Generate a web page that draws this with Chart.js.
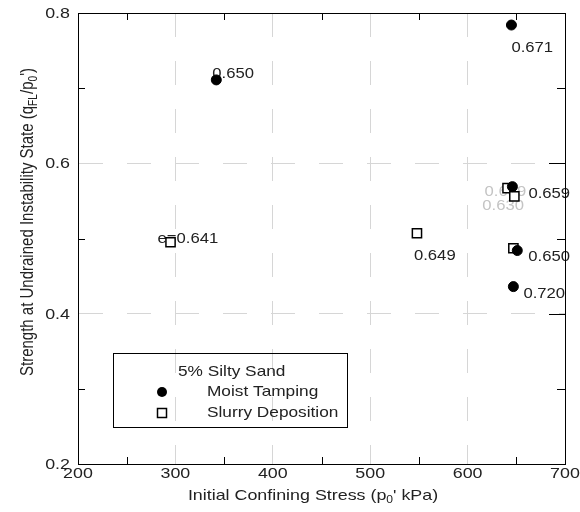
<!DOCTYPE html>
<html>
<head>
<meta charset="utf-8">
<script src="https://cdn.jsdelivr.net/npm/chart.js@4.4.0/dist/chart.umd.min.js"></script>
<style>
  html, body { margin: 0; padding: 0; background: #fff; }
  canvas { display: block; }
</style>
</head>
<body>
<canvas id="strengthChart" width="580" height="512"></canvas>
<script>
// values
const moistStress = [342, 645, 646, 651, 647];
const moistStrength = [0.711, 0.784, 0.569, 0.484, 0.436];
const moistVoid = ["0.650", "0.671", "0.659", "0.650", "0.720"];

const slurryStress = [295, 548, 641, 648, 647];
const slurryStrength = [0.495, 0.507, 0.567, 0.556, 0.487];
const slurryVoid = ["e=0.641", "0.649", "0.639", "0.630", ""];

const xTicks = [200, 300, 400, 500, 600, 700];
const yTicks = [0.2, 0.4, 0.6, 0.8];

// label placement relative to each marker (px)
const moistLabelOffset = [[-4, -6], [0, 23], [16, 8], [11, 7], [10, 8]];
const slurryLabelOffset = [[-13, -3], [-3, 23], [-23, 4], [-32, 10], [0, 0]];
const slurryLabelColor = ["#222", "#222", "#c4c4c4", "#c4c4c4", "#222"];

const FONT = "'Liberation Sans', Arial, sans-serif";
const STRETCH = 1.19;

function toPoints(xs, ys) {
  return xs.map((x, i) => ({ x: x, y: ys[i] }));
}

// draws a run of text pieces (some subscripted), horizontally stretched
function drawRun(ctx, pieces, size, align) {
  let w = 0;
  pieces.forEach((p) => {
    ctx.font = (p.sub ? size * 0.68 : size) + "px " + FONT;
    p.w = ctx.measureText(p.t).width;
    w += p.w;
  });
  let x = align === "center" ? -w / 2 : align === "right" ? -w : 0;
  pieces.forEach((p) => {
    ctx.font = (p.sub ? size * 0.68 : size) + "px " + FONT;
    ctx.fillText(p.t, x, p.sub ? size * 0.3 : 0);
    x += p.w;
  });
}

function text(ctx, str, x, y, size, align, color) {
  ctx.save();
  ctx.translate(x, y);
  ctx.scale(STRETCH, 1);
  ctx.fillStyle = color || "#222";
  ctx.textBaseline = "middle";
  drawRun(ctx, typeof str === "string" ? [{ t: str }] : str, size, align);
  ctx.restore();
}

const decorations = {
  id: "decorations",
  beforeDatasetsDraw(chart) {
    const ctx = chart.ctx;
    const xs = chart.scales.x, ys = chart.scales.y;
    moistStress.forEach((v, i) => {
      const o = moistLabelOffset[i];
      text(ctx, moistVoid[i], xs.getPixelForValue(v) + o[0],
        ys.getPixelForValue(moistStrength[i]) + o[1], 14, "left");
    });
    slurryStress.forEach((v, i) => {
      if (!slurryVoid[i]) return;
      const o = slurryLabelOffset[i];
      text(ctx, slurryVoid[i], xs.getPixelForValue(v) + o[0],
        ys.getPixelForValue(slurryStrength[i]) + o[1], 14, "left", slurryLabelColor[i]);
    });
  },
  afterDraw(chart) {
    const ctx = chart.ctx;
    const a = chart.chartArea;
    const xs = chart.scales.x, ys = chart.scales.y;

    // frame
    ctx.save();
    ctx.strokeStyle = "#000";
    ctx.lineWidth = 1;
    ctx.strokeRect(Math.round(a.left) + 0.5, Math.round(a.top) + 0.5,
      Math.round(a.right - a.left), Math.round(a.bottom - a.top));

    // inward ticks: minor between majors, plus long majors on the right
    ctx.beginPath();
    for (let i = 0; i < xTicks.length - 1; i++) {
      const px = Math.round(xs.getPixelForValue((xTicks[i] + xTicks[i + 1]) / 2)) + 0.5;
      ctx.moveTo(px, a.bottom); ctx.lineTo(px, a.bottom - 7);
      ctx.moveTo(px, a.top); ctx.lineTo(px, a.top + 7);
    }
    for (let i = 0; i < yTicks.length - 1; i++) {
      const py = Math.round(ys.getPixelForValue((yTicks[i] + yTicks[i + 1]) / 2)) + 0.5;
      ctx.moveTo(a.left, py); ctx.lineTo(a.left + 7, py);
      ctx.moveTo(a.right, py); ctx.lineTo(a.right - 8, py);
    }
    for (let i = 1; i < yTicks.length - 1; i++) {
      const py = Math.round(ys.getPixelForValue(yTicks[i])) + 0.5;
      ctx.moveTo(a.right, py); ctx.lineTo(a.right - 16, py);
    }
    ctx.stroke();
    ctx.restore();

    // tick labels
    xTicks.forEach((v) => text(ctx, String(v), xs.getPixelForValue(v), a.bottom + 10, 15, "center"));
    yTicks.forEach((v) => text(ctx, v.toFixed(1), a.left - 8, ys.getPixelForValue(v) + 1, 15, "right"));

    // axis titles
    text(ctx, [{ t: "Initial Confining Stress (p" }, { t: "0", sub: true }, { t: "' kPa)" }],
      313, 496, 15, "center");
    ctx.save();
    ctx.translate(28, 222);
    ctx.rotate(-Math.PI / 2);
    ctx.scale(1, STRETCH);
    ctx.fillStyle = "#222";
    ctx.textBaseline = "middle";
    drawRun(ctx, [{ t: "Strength at Undrained Instability State (q" }, { t: "FL", sub: true },
      { t: "/p" }, { t: "0", sub: true }, { t: "')" }], 15, "center");
    ctx.restore();

    // legend
    ctx.save();
    ctx.strokeStyle = "#000";
    ctx.lineWidth = 1;
    ctx.strokeRect(113.5, 353.5, 234, 74);
    ctx.fillStyle = "#000";
    ctx.beginPath();
    ctx.arc(162, 392, 5, 0, Math.PI * 2);
    ctx.fill();
    ctx.fillStyle = "#fff";
    ctx.lineWidth = 1.5;
    ctx.fillRect(157.5, 408.5, 9, 9);
    ctx.strokeRect(157.5, 408.5, 9, 9);
    ctx.restore();
    text(ctx, "5% Silty Sand", 178, 372, 14.5, "left");
    text(ctx, "Moist Tamping", 207, 392, 14.5, "left");
    text(ctx, "Slurry Deposition", 207, 413, 14.5, "left");
  }
};

const gridOpts = {
  color: "#d6d6d6",
  lineWidth: 1,
  drawTicks: false
};

new Chart(document.getElementById("strengthChart"), {
  type: "scatter",
  data: {
    datasets: [
      {
        label: "Moist Tamping",
        data: toPoints(moistStress, moistStrength),
        pointStyle: "circle",
        radius: 5,
        backgroundColor: "#000",
        borderColor: "#000",
        borderWidth: 1
      },
      {
        label: "Slurry Deposition",
        data: toPoints(slurryStress, slurryStrength),
        pointStyle: "rect",
        radius: 6.5,
        backgroundColor: "#fff",
        borderColor: "#000",
        borderWidth: 1.5
      }
    ]
  },
  options: {
    responsive: false,
    animation: false,
    layout: { padding: { left: 78, top: 13, right: 15, bottom: 48 } },
    plugins: {
      legend: { display: false },
      tooltip: { enabled: false }
    },
    scales: {
      x: {
        type: "linear",
        min: xTicks[0],
        max: xTicks[xTicks.length - 1],
        afterBuildTicks: (s) => { s.ticks = xTicks.map((v) => ({ value: v })); },
        ticks: { display: false },
        grid: gridOpts,
        border: { color: "#000", dash: [24, 24] }
      },
      y: {
        type: "linear",
        min: yTicks[0],
        max: yTicks[yTicks.length - 1],
        afterBuildTicks: (s) => { s.ticks = yTicks.map((v) => ({ value: v })); },
        ticks: { display: false },
        grid: gridOpts,
        border: { color: "#000", dash: [24, 24] }
      }
    }
  },
  plugins: [decorations]
});
</script>
</body>
</html>
